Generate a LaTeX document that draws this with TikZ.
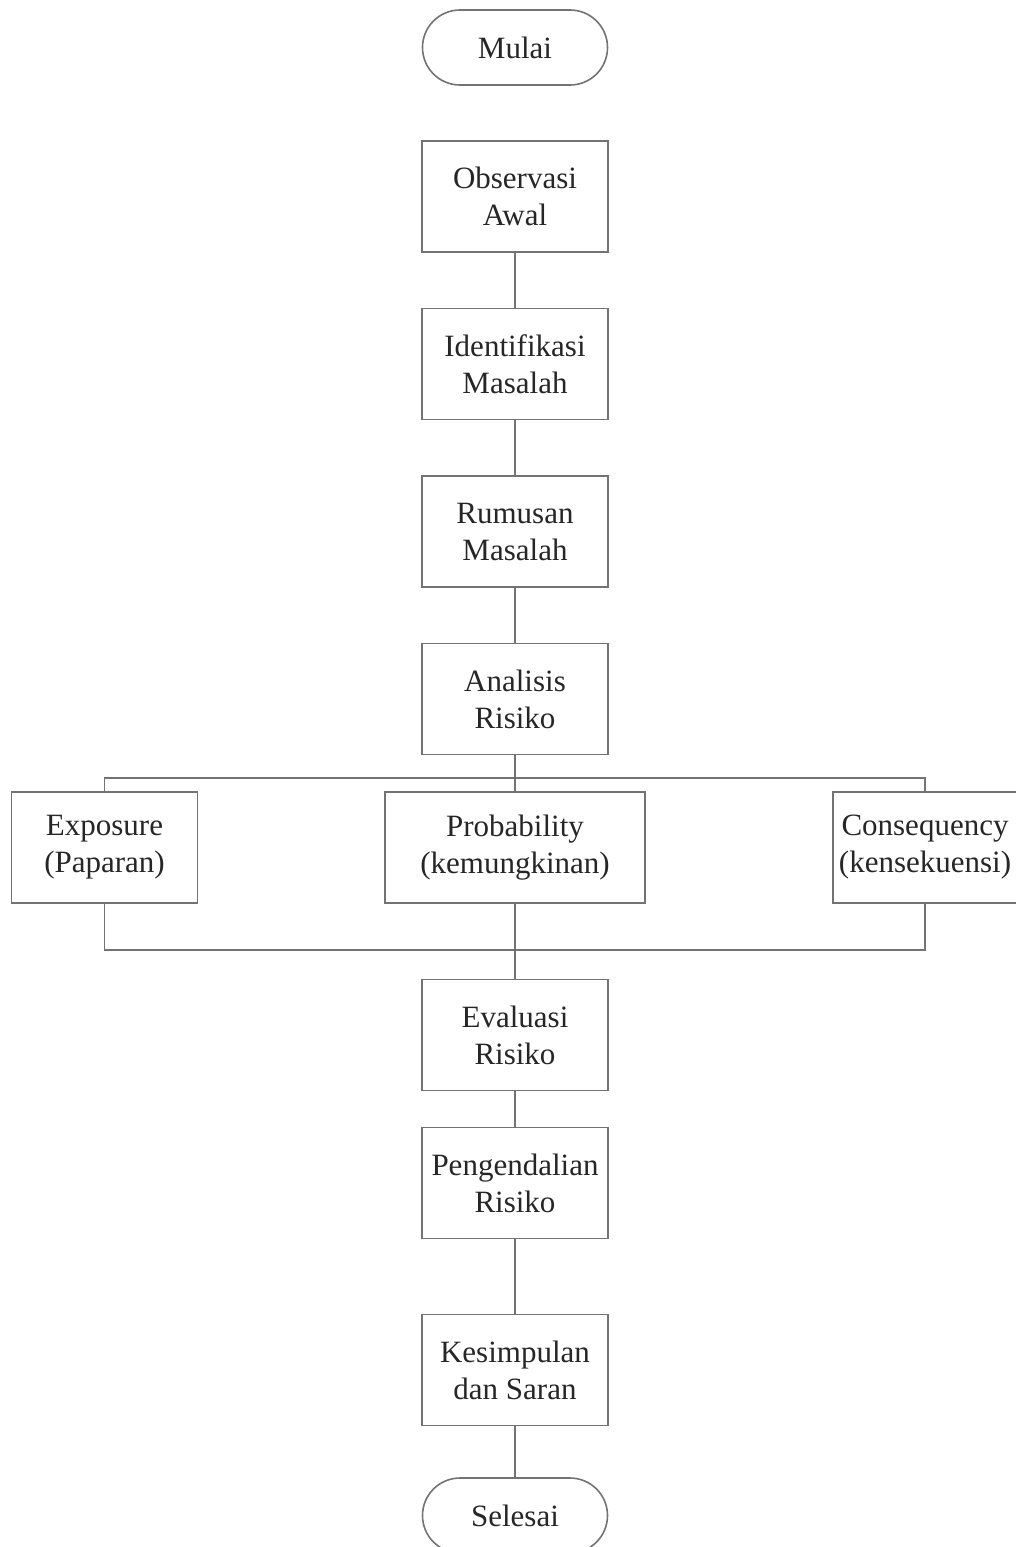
\documentclass[tikz,border=0pt]{standalone}
\usepackage{fontspec}
\setmainfont{Liberation Serif}
\begin{document}
\begin{tikzpicture}[x=0.5pt,y=-0.5pt,
  line/.style={draw=black!55,line width=0.8pt},
  stepbox/.style={line,rectangle,minimum width=93pt,minimum height=55.5pt,inner sep=0pt,align=center,
    font=\fontsize{15.5}{18.5}\selectfont,text=black!85},
  term/.style={line,rectangle,rounded corners=18.75pt,minimum width=92.5pt,minimum height=37.5pt,inner sep=0pt,
    font=\fontsize{15.5}{18.5}\selectfont,text=black!85}]
\useasboundingbox (0,0) rectangle (1016,1547);
\node[term] (mulai) at (515,47.5) {Mulai};
\node[stepbox] (obs) at (515,196.5) {Observasi\\Awal};
\node[stepbox] (idf) at (515,364) {Identifikasi\\Masalah};
\node[stepbox] (rum) at (515,531.5) {Rumusan\\Masalah};
\node[stepbox] (ana) at (515,699) {Analisis\\Risiko};
\node[stepbox] (exp) at (104.5,847.5) {Exposure\\(Paparan)};
\node[stepbox,minimum width=130pt] (pro) at (515,847.5) {Probability\\(kemungkinan)};
\node[stepbox,minimum width=92pt] (con) at (925,847.5) {Consequency\\(kensekuensi)};
\node[stepbox] (eva) at (515,1035) {Evaluasi\\Risiko};
\node[stepbox] (pen) at (515,1183) {Pengendalian\\Risiko};
\node[stepbox] (kes) at (515,1370) {Kesimpulan\\dan Saran};
\node[term] (sel) at (515,1515.5) {Selesai};
\coordinate (bt) at (515,778);
\coordinate (bb) at (515,950);
\draw[line] (obs) -- (idf);
\draw[line] (idf) -- (rum);
\draw[line] (rum) -- (ana);
\draw[line] (ana) -- (pro);
\draw[line] (exp.north) |- (bt) -| (con.north);
\draw[line] (exp.south) |- (bb) -| (con.south);
\draw[line] (pro) -- (eva);
\draw[line] (eva) -- (pen);
\draw[line] (pen) -- (kes);
\draw[line] (kes) -- (sel);
\end{tikzpicture}
\end{document}
